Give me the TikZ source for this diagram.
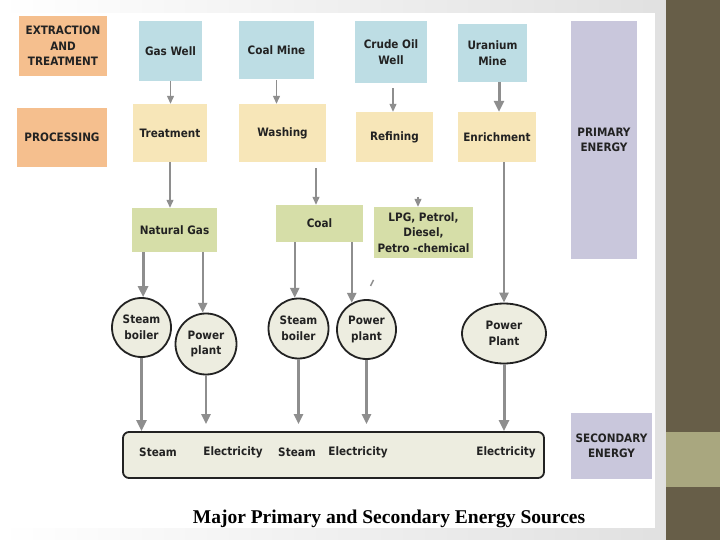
\documentclass[tikz,border=0pt]{standalone}
\usepackage{fontspec}
\setmainfont{DejaVu Sans}[FakeStretch=0.9]
\newfontfamily\titlefont{Liberation Serif}
\usetikzlibrary{arrows.meta,shapes.geometric}
\definecolor{cOrange}{HTML}{F5BF8E}
\definecolor{cBlue}{HTML}{BDDDE4}
\definecolor{cCream}{HTML}{F7E6B8}
\definecolor{cGreen}{HTML}{D6DEA8}
\definecolor{cLav}{HTML}{C9C7DC}
\definecolor{cRound}{HTML}{EDEDE0}
\definecolor{cArrow}{HTML}{8E8E8E}
\definecolor{cText}{HTML}{222222}
\definecolor{cBand}{HTML}{675E48}
\definecolor{cBandLight}{HTML}{A9A77F}
\tikzset{
  every node/.style={font=\fontsize{11.6}{15.5}\selectfont\bfseries, text=cText, align=center},
  box/.style={rectangle, inner sep=0pt},
  extbox/.style={box, fill=cBlue},
  procbox/.style={box, fill=cCream},
  fuelbox/.style={box, fill=cGreen},
  catbox/.style={box, fill=cOrange},
  energybox/.style={box, fill=cLav},
  roundnode/.style={circle, draw=cText, line width=1.8pt, fill=cRound, inner sep=0pt},
  ovalnode/.style={ellipse, draw=cText, line width=1.8pt, fill=cRound, inner sep=0pt},
  thinarr/.style={draw=cArrow, line width=1.2pt, -{Triangle[width=7pt,length=8pt]}},
  medarr/.style={draw=cArrow, line width=2.2pt, -{Triangle[width=9pt,length=10pt]}},
  thickarr/.style={draw=cArrow, line width=3pt, -{Triangle[width=10pt,length=11pt]}},
}
\begin{document}
\begin{tikzpicture}[x=1pt,y=-1pt]
\useasboundingbox (0,0) rectangle (720,540);
% background
\shade[left color=white, right color=black!12] (0,0) rectangle (666,540);
\fill[white] (0,13) rectangle (655,528);
\fill[cBand] (666,0) rectangle (720,540);
\fill[cBandLight] (666,432) rectangle (720,487);

% category boxes
\node[catbox, minimum width=88pt, minimum height=60pt] (ext) at (63,46) {EXTRACTION\\AND\\TREATMENT};
\node[catbox, minimum width=90pt, minimum height=59pt] (proc) at (62,137.5) {PROCESSING};
\node[energybox, minimum width=66pt, minimum height=238pt] (primary) at (604,140) {PRIMARY\\ENERGY};
\node[energybox, minimum width=81pt, minimum height=66pt] (secondary) at (611.5,446) {SECONDARY\\ENERGY};

% extraction
\node[extbox, minimum width=63pt, minimum height=60pt] (gaswell) at (170.5,51) {Gas Well};
\node[extbox, minimum width=75pt, minimum height=58pt] (coalmine) at (276.5,50) {Coal Mine};
\node[extbox, minimum width=72pt, minimum height=62pt] (crude) at (391,52) {Crude Oil\\Well};
\node[extbox, minimum width=69pt, minimum height=58pt] (uranium) at (492.5,53) {Uranium\\Mine};

% processing
\node[procbox, minimum width=74pt, minimum height=58pt] (treatment) at (170,133) {Treatment};
\node[procbox, minimum width=87pt, minimum height=58pt] (washing) at (282.5,133) {Washing};
\node[procbox, minimum width=77pt, minimum height=50pt] (refining) at (394.5,137) {Refining};
\node[procbox, minimum width=78pt, minimum height=50pt] (enrichment) at (497,137) {Enrichment};

% fuels
\node[fuelbox, minimum width=85pt, minimum height=44pt] (natgas) at (174.5,230) {Natural Gas};
\node[fuelbox, minimum width=87pt, minimum height=37pt] (coal) at (319.5,223.5) {Coal};
\node[fuelbox, minimum width=99pt, minimum height=51pt] (lpg) at (423.5,232.5) {LPG, Petrol,\\Diesel,\\Petro -chemical};

% conversion
\node[roundnode, minimum size=59pt] (sb1) at (141.5,327.5) {Steam\\boiler};
\node[roundnode, minimum size=61pt] (pp1) at (206,344) {Power\\plant};
\node[roundnode, minimum size=60pt] (sb2) at (298.5,328.5) {Steam\\boiler};
\node[roundnode, minimum size=59pt] (pp2) at (366.5,329.5) {Power\\plant};
\node[ovalnode, minimum width=84pt, minimum height=60pt] (pp3) at (504,333.5) {Power\\Plant};

% secondary bar
\node[rectangle, rounded corners=6pt, draw=cText, line width=1.8pt, fill=cRound, minimum width=421pt, minimum height=46pt] (bar) at (333.5,455) {};
\node (lSteamA) at (158,452) {Steam};
\node (lElecA) at (233,452) {Electricity};
\node (lSteamB) at (297,452) {Steam};
\node (lElecB) at (358,452) {Electricity};
\node (lElecC) at (506,452) {Electricity};

% title
\node[font=\titlefont\fontsize{19.5}{22}\selectfont\bfseries, text=black, anchor=base] (title) at (389,523) {Major Primary and Secondary Energy Sources};

% connectors: extraction -> processing
\draw[thinarr] (gaswell.south) -- (gaswell.south |- treatment.north);
\draw[thinarr] ([yshift=-1pt]coalmine.south) -- (coalmine.south |- washing.north);
\draw[thinarr] ([xshift=2pt,yshift=-5pt]crude.south) -- ([xshift=-1.5pt]refining.north);
\coordinate (uraX) at ([xshift=6.5pt]uranium.south);
\draw[thickarr] (uraX) -- (uraX |- enrichment.north);

% processing -> fuels
\draw[thinarr] (treatment.south) -- (treatment.south |- natgas.north);
\coordinate (coalX) at ([xshift=-3.5pt]coal.north);
\coordinate (washOut) at ([yshift=-6pt]washing.south);
\draw[thinarr] (coalX |- washOut) -- (coalX);
\coordinate (lpgStub) at ([xshift=-5.5pt,yshift=10pt]lpg.north);
\draw[thinarr] (lpgStub) -- ([xshift=-5.5pt]lpg.north);
\draw[medarr] (pp3.north |- enrichment.south) -- (pp3.north);

% fuels -> conversion
\draw[thickarr] (sb1.87 |- natgas.south) -- (sb1.87);
\draw[medarr] (pp1.96 |- natgas.south) -- (pp1.96);
\draw[medarr] (sb2.97 |- coal.south) -- (sb2.97);
\draw[medarr] (pp2.119 |- coal.south) -- (pp2.119);

% conversion -> secondary
\draw[thickarr] (sb1.south) -- (sb1.south |- bar.north);
\draw[medarr, shorten >=7pt] (pp1.south) -- (pp1.south |- bar.north);
\draw[medarr, shorten >=7pt] (sb2.south) -- (sb2.south |- bar.north);
\draw[medarr, shorten >=7pt] (pp2.south) -- (pp2.south |- bar.north);
\draw[thickarr] (pp3.south) -- (pp3.south |- bar.north);

% stray mark
\draw[cArrow, line width=1.4pt] (370.5,286) -- (373.5,280);
\end{tikzpicture}
\end{document}
